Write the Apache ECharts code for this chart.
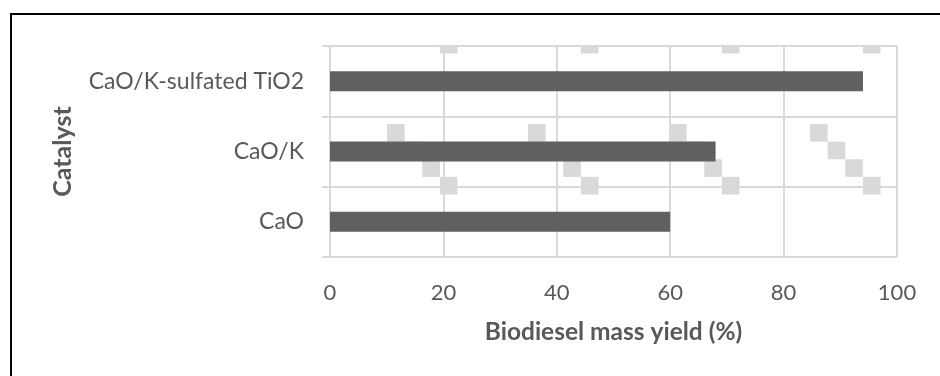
<!DOCTYPE html>
<html>
<head>
<meta charset="utf-8">
<script src="https://cdn.jsdelivr.net/npm/echarts@6/dist/echarts.min.js"></script>
<style>
  html, body { margin: 0; padding: 0; background: #fff; }
  #chart { width: 940px; height: 376px; }
</style>
</head>
<body>
<div id="chart"></div>
<script>
// Catalysts, bottom to top on the category axis
const catalysts = ['CaO', 'CaO/K', 'CaO/K-sulfated TiO2'];
// Biodiesel mass yield (%) for each catalyst
const yields = [60, 68, 94];
// Value-axis range and step
const xMin = 0, xMax = 100, xStep = 20;

const FONT = 'Lato, "Open Sans", sans-serif';
const TEXT = '#595959';
const GRID = '#d9d9d9';

// Plot-area fill: a sparse diagonal staircase of light squares
function staircaseTile() {
  const size = 141, cell = size / 8;
  const c = document.createElement('canvas');
  c.width = size; c.height = size;
  const g = c.getContext('2d');
  g.fillStyle = GRID;
  for (let i = 0; i < 4; i++) g.fillRect(i * cell, i * cell, cell, cell);
  return c;
}

const chart = echarts.init(document.getElementById('chart'), null, { renderer: 'canvas' });
chart.setOption({
  animation: false,
  backgroundColor: '#fff',
  grid: {
    left: 330, right: 43, top: 46, bottom: 119,
    show: true, borderWidth: 0,
    backgroundColor: { image: staircaseTile(), repeat: 'repeat', x: 387, y: 124 }
  },
  xAxis: {
    type: 'value', min: xMin, max: xMax, interval: xStep,
    name: 'Biodiesel mass yield (%)', nameLocation: 'middle', nameGap: 63,
    nameTextStyle: { fontFamily: FONT, fontSize: 24.5, fontWeight: 'bold', color: TEXT },
    axisLine: { show: false }, axisTick: { show: false },
    axisLabel: { margin: 25, fontFamily: FONT, fontSize: 22, color: TEXT },
    splitLine: { show: true, lineStyle: { color: GRID, width: 2 } }
  },
  yAxis: {
    type: 'category', data: catalysts,
    name: 'Catalyst', nameLocation: 'middle', nameGap: 255, nameRotate: 90,
    nameTextStyle: { fontFamily: FONT, fontSize: 25, fontWeight: 'bold', color: TEXT },
    axisLine: { show: false },
    axisTick: { show: true, length: 8, lineStyle: { color: GRID, width: 2 } },
    axisLabel: { margin: 26, fontFamily: FONT, fontSize: 23, color: TEXT },
    splitLine: { show: true, lineStyle: { color: GRID, width: 2 } }
  },
  series: [{
    type: 'bar', data: yields, barWidth: 20,
    itemStyle: { color: '#606060' }
  }],
  graphic: [{
    type: 'rect', silent: true, z: 100,
    shape: { x: 11, y: 14, width: 2000, height: 2000 },
    style: { fill: null, stroke: '#000', lineWidth: 2 }
  }]
});
</script>
</body>
</html>
